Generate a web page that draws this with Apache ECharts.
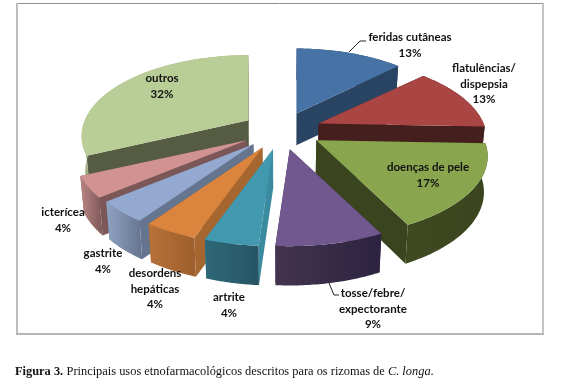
<!DOCTYPE html>
<html>
<head>
<meta charset="utf-8">
<style>
  html, body { margin: 0; padding: 0; background: #fff; }
  #chart { width: 564px; height: 390px; }
</style>
<script src="https://cdn.jsdelivr.net/npm/echarts@6/dist/echarts.min.js"></script>
</head>
<body>
<div id="chart"></div>
<script>
// pizza 3D explodida: o echarts nao tem perspectiva no pie, entao vai em custom
const categories = ['feridas cutâneas', 'flatulências/\ndispepsia', 'doenças de pele', 'tosse/febre/\nexpectorante', 'artrite', 'desordens\nhepáticas', 'gastrite', 'icterícea', 'outros']
const values = [12.8, 12.8, 17, 8.5, 4.25, 4.25, 4.25, 4.25, 31.9]

// cores: topo, parede radial, parede externa (esq -> dir)
const topColors = ['#4672a6', '#a94543', '#89a54e', '#71588f', '#4198af', '#da843d', '#93a9cf', '#d09392', '#b9cd96']
const wallColors = ['#2a4563', '#451f1d', '#3a451f', '#2f2540', '#3a8ba0', '#a5672f', '#65748f', '#7c5757', '#555c42']
const outerColors = [
  ['#2a4563', '#2a4563'], ['#451f1d', '#451f1d'], ['#3f4a22', '#3a451f'], ['#43344f', '#2c2340'],
  ['#2f6878', '#265565'], ['#b8723a', '#9d5f2c'], ['#8fa3c2', '#65748f'], ['#ba8584', '#7c5757'], ['#a0ad80', '#9aa77c']
]
const labelPos = [[410, 37], [484, 68], [428, 167], [373, 293], [229, 297], [155, 273], [103, 253], [63, 212], [162, 78]]

const cx = 281.5, cy = 130
const rx = 168, ry = 77.8, persp = 0.1975
const explode = 0.24

const total = values.reduce((a, b) => a + b, 0)
// projecao do disco: theta 0 = fundo, sentido horario
function project(theta, r) {
  const s = Math.sin(theta), c = Math.cos(theta)
  const d = 1 + persp * r * c
  return [rx * r * s / d, -ry * r * c / d]
}
function depth(theta) {
  return 35 / (1 + 0.11 * Math.cos(theta))
}

let acc = 0
const slices = values.map((v, i) => {
  const a0 = (acc / total) * Math.PI * 2
  acc += v
  const a1 = (acc / total) * Math.PI * 2
  const mid = (a0 + a1) / 2
  const off = project(mid, explode)
  return { i, a0, a1, mid, ax: cx + off[0], ay: cy + off[1] }
})
// de tras pra frente
const order = slices.slice().sort((p, q) => Math.cos(q.mid) - Math.cos(p.mid))

function renderSlice(params) {
  const sl = order[params.dataIndex]
  const i = sl.i
  const steps = 40
  // fatias do fundo ficam um pouco mais estreitas
  const shrink = 1 - 0.05 * Math.max(0, Math.cos(sl.mid))
  const topArc = [], lowArc = []
  for (let k = 0; k <= steps; k++) {
    const t = sl.a0 + (sl.a1 - sl.a0) * k / steps
    const p = project(t, 1)
    const x = sl.ax + p[0] * shrink, y = sl.ay + p[1]
    topArc.push([x, y])
    lowArc.push([cx + (x - cx) * 0.982, y + depth(t)])
  }
  const apexLow = [cx + (sl.ax - cx) * 0.982, sl.ay + depth(sl.mid)]
  const apex = [sl.ax, sl.ay]
  const first = topArc[0], last = topArc[steps]
  const children = []
  const poly = (points, fill) => children.push({
    type: 'polygon',
    shape: { points },
    style: { fill },
  })
  // paredes radiais primeiro, a de tras antes
  const walls = [
    { a: sl.a0, pts: [apex, first, lowArc[0], apexLow] },
    { a: sl.a1, pts: [apex, last, lowArc[steps], apexLow] },
  ].sort((p, q) => Math.cos(q.a) - Math.cos(p.a))
  walls.forEach((w) => poly(w.pts, wallColors[i]))
  // parede externa inteira, o topo cobre o que sobra atras
  poly(topArc.concat(lowArc.slice().reverse()), new echarts.graphic.LinearGradient(0, 0, 1, 0, [
    { offset: 0, color: outerColors[i][0] },
    { offset: 1, color: outerColors[i][1] },
  ]))
  poly([apex].concat(topArc), topColors[i])
  return { type: 'group', children }
}

const labelStyle = {
  font: 'bold 11.5px Lato, "Open Sans", sans-serif',
  fill: '#111',
  align: 'center',
  verticalAlign: 'top',
  lineHeight: 15.3,
}
const labels = categories.map((name, i) => ({
  type: 'text',
  x: labelPos[i][0],
  y: labelPos[i][1] - 7,
  z: 10,
  style: Object.assign({ text: name + '\n' + Math.round(values[i]) + '%' }, labelStyle),
}))

const frameLine = (x1, y1, x2, y2, stroke, lineWidth) => ({
  type: 'line', z: -1, shape: { x1, y1, x2, y2 }, style: { stroke, lineWidth },
})

const option = {
  animation: false,
  backgroundColor: '#fff',
  series: [{
    type: 'custom',
    coordinateSystem: 'none',
    silent: true,
    data: order.map((s) => values[s.i]),
    renderItem: renderSlice,
  }],
  graphic: labels.concat([
    // moldura
    frameLine(16, 3.5, 543, 3.5, '#8f8f8f', 1),
    frameLine(17, 3, 17, 335, '#bdbdbd', 2),
    frameLine(543, 3, 543, 335, '#b0b0b0', 1.5),
    frameLine(16, 334, 544, 334, '#b5b5b5', 2),
    // linhas de chamada
    { type: 'polyline', z: 10, shape: { points: [[349, 52], [360, 41], [366, 41]] }, style: { fill: 'none', stroke: '#222', lineWidth: 1 } },
    { type: 'polyline', z: 10, shape: { points: [[329, 283], [334, 295], [339, 295]] }, style: { fill: 'none', stroke: '#222', lineWidth: 1 } },
    // legenda
    {
      type: 'text', x: 15, y: 366,
      style: {
        text: '{b|Figura 3.} {n|Principais usos etnofarmacológicos descritos para os rizomas de }{i|C. longa}{n|.}',
        rich: {
          b: { font: 'bold 12.4px "Liberation Serif"', fill: '#111' },
          n: { font: '12.4px "Liberation Serif"', fill: '#111' },
          i: { font: 'italic 12.4px "Liberation Serif"', fill: '#111' },
        },
      },
    },
  ]),
}

const myChart = echarts.init(document.getElementById('chart'))
myChart.setOption(option, true)
</script>
</body>
</html>
